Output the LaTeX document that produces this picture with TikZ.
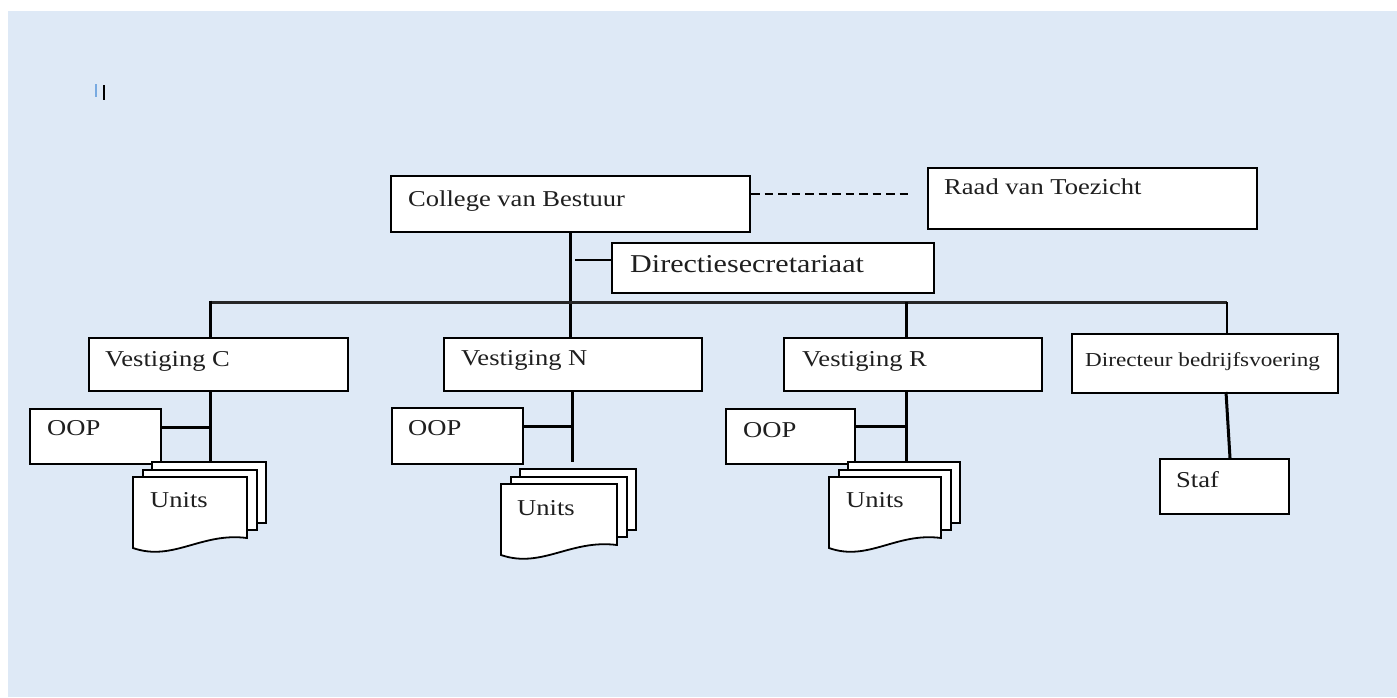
\documentclass[tikz,border=0pt]{standalone}
\usepackage{fontspec}
\setmainfont{Liberation Serif}[FakeStretch=1.17]
\definecolor{bgblue}{RGB}{222,233,246}
\definecolor{curblue}{RGB}{120,170,225}
\newcommand\docstack[3]{%
  \draw[docs] ({#1+19},{#2-15}) rectangle ({#1+19+#3},{#2+46});
  \draw[docs] ({#1+10},{#2-7}) rectangle ({#1+10+#3},{#2+53});
  \draw[docs] (#1,#2) -- ({#1+#3},#2) -- ({#1+#3},{#2+61})
     .. controls ({#1+0.6*#3},{#2+55}) and ({#1+0.35*#3},{#2+85}) .. (#1,{#2+71}) -- cycle;}
\begin{document}
\begin{tikzpicture}[x=1pt,y=-1pt,
  box/.style={draw=black, line width=2pt, fill=white, inner sep=0pt, anchor=north west},
  bx/.style 2 args={box, minimum width=#1pt, minimum height=#2pt},
  txt/.style={anchor=base west, inner sep=0pt, text=black!88, font=\fontsize{22.7}{27}\selectfont},
  heavy/.style={draw=black, line width=3pt},
  lite/.style={draw=black, line width=1.2pt},
  busline/.style={draw=black!85, line width=3pt},
  dsh/.style={draw=black, line width=2.7pt, dash pattern=on 8.5pt off 5pt},
  docs/.style={draw=black, fill=white, line width=1.8pt, line join=miter}]
\useasboundingbox (0,0) rectangle (1397,697);
\fill[white] (0,0) rectangle (1397,697);
\fill[bgblue] (8,11) rectangle (1397,697);
\draw[curblue, line width=2pt] (95.5,84) -- (95.5,97);
\draw[black, line width=1.5pt] (104,85) -- (104,100);

% boxes
\node[bx={359}{56}] (cvb) at (390,175) {};
\node[bx={329}{61}] (rvt) at (927,167) {};
\node[bx={322}{50}] (ds) at (611,242) {};
\node[bx={259}{53}] (vc) at (88,337) {};
\node[bx={258}{53}] (vn) at (443,337) {};
\node[bx={258}{53}] (vr) at (783,337) {};
\node[bx={266}{59}] (dbv) at (1071,333) {};
\node[bx={129}{55}] (staf) at (1159,458) {};
\node[bx={131}{55}] (oc) at (29,408) {};
\node[bx={131}{56}] (on) at (391,407) {};
\node[bx={129}{55}] (oR) at (725,408) {};

% texts
\node[txt] (cvbT) at (408,206) {College van Bestuur};
\node[txt] (rvtT) at (944,194) {Raad van Toezicht};
\node[txt, font=\fontsize{25.7}{30}\selectfont] (dsT) at (630,272) {Directiesecretariaat};
\node[txt] (vcT) at (105,366) {Vestiging C};
\node[txt] (vnT) at (461,365) {Vestiging N};
\node[txt] (vrT) at (802,366) {Vestiging R};
\node[txt, font=\fontsize{19.8}{24}\selectfont] (dbvT) at (1085,366) {Directeur bedrijfsvoering};
\node[txt] (stafT) at (1176,487) {Staf};
\node[txt] (ocT) at (47,435) {OOP};
\node[txt] (onT) at (408,435) {OOP};
\node[txt] (orT) at (743,437) {OOP};

% connectors top
\draw[dsh] (cvb.east |- 0,194) -- ([xshift=-15pt]rvt.west |- 0,194);
\draw[heavy] (cvb.south) -- (cvb.south |- vn.north);
\coordinate (dsJ) at (575,260);
\draw[lite] (dsJ) -- (dsJ -| ds.west);

% bus
\coordinate (busL) at (210,302);
\coordinate (busR) at (1227,302);
\coordinate (busRr) at (906,302);
\draw[busline] (busL) -- (busR);
\draw[heavy, shorten <=-1.5pt] (busL) -- (busL |- vc.north);
\draw[heavy] (busRr) -- (busRr |- vr.north);
\draw[lite] (busR) -- (busR |- dbv.north);

% columns
\coordinate (cJ) at (210,461);
\draw[heavy] (cJ |- vc.south) -- (cJ);
\draw[heavy] (oc.east |- 0,427) -- (cJ |- 0,427);
\coordinate (nJ) at (572,462);
\draw[heavy] (nJ |- vn.south) -- (nJ);
\draw[heavy] (on.east |- 0,426) -- (nJ |- 0,426);
\coordinate (rJ) at (906,462);
\draw[heavy] (rJ |- vr.south) -- (rJ);
\draw[heavy] (oR.east |- 0,426) -- (rJ |- 0,426);
\coordinate (dbvB) at (1226,392);
\draw[heavy] (dbvB) -- ([xshift=5.5pt]staf.north);

% units
\docstack{133}{477}{114}
\docstack{501}{484}{116}
\docstack{829}{477}{112}
\node[txt] (ucT) at (150,507) {Units};
\node[txt] (unT) at (517,515) {Units};
\node[txt] (urT) at (846,507) {Units};
\end{tikzpicture}
\end{document}
